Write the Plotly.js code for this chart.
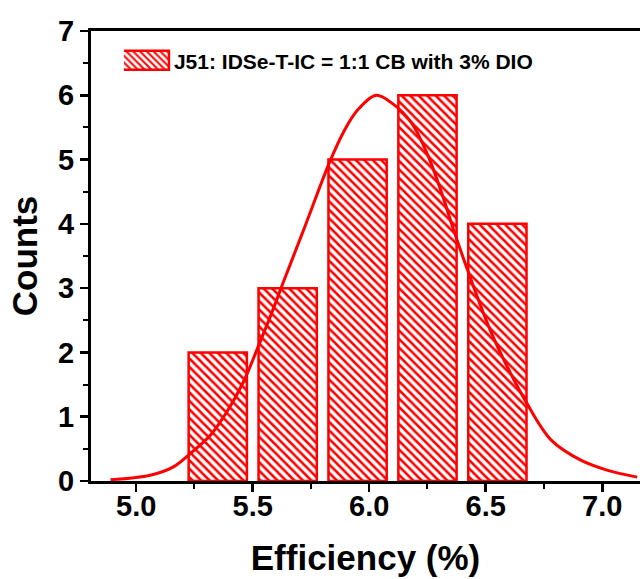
<!DOCTYPE html>
<html>
<head>
<meta charset="utf-8">
<script src="https://cdn.plot.ly/plotly-3.0.1.min.js"></script>
<style>
html,body{margin:0;padding:0;background:#fff;overflow:hidden;}
#chart{width:640px;height:579px;}
</style>
</head>
<body>
<div id="chart"></div>
<script>
// Histogram bins (efficiency, %) and counts
const binCenters = [5.35, 5.65, 5.95, 6.25, 6.55];
const counts = [2, 3, 5, 6, 4];
const binWidth = 0.25;

// Fitted distribution curve
const fitX = [4.89, 5.06, 5.16, 5.23, 5.32, 5.39, 5.46, 5.52, 5.58, 5.63, 5.72, 5.83, 5.89, 5.95, 6.03, 6.10, 6.18, 6.25, 6.31, 6.36, 6.43, 6.52, 6.61, 6.67, 6.78, 6.91, 7.02, 7.15];
const fitY = [0.02, 0.09, 0.22, 0.42, 0.72, 1.08, 1.54, 2.06, 2.60, 3.08, 3.92, 4.96, 5.43, 5.77, 6.00, 5.87, 5.58, 5.08, 4.49, 3.93, 3.20, 2.34, 1.65, 1.25, 0.64, 0.32, 0.17, 0.06];

const xTickVals = [5.0, 5.5, 6.0, 6.5, 7.0];
const xTickText = ['5.0', '5.5', '6.0', '6.5', '7.0'];
const yTickVals = [0, 1, 2, 3, 4, 5, 6, 7];

const legendName = 'J51: IDSe-T-IC = 1:1 CB with 3% DIO';
const RED = '#FF0000';
const FONT = 'Liberation Sans, Arial, sans-serif';

const traces = [
  {
    type: 'bar',
    x: binCenters,
    y: counts,
    width: binWidth,
    name: legendName,
    marker: {
      color: RED,
      line: {color: RED, width: 2.5},
      pattern: {shape: '\\', fgcolor: RED, bgcolor: '#FFFFFF', size: 6, solidity: 0.42}
    },
    hoverinfo: 'skip'
  },
  {
    type: 'scatter',
    mode: 'lines',
    x: fitX,
    y: fitY,
    line: {color: RED, width: 3, shape: 'spline', smoothing: 1},
    showlegend: false,
    hoverinfo: 'skip'
  }
];

const layout = {
  width: 640,
  height: 579,
  margin: {l: 91, r: 0, t: 31, b: 98, pad: 0},
  paper_bgcolor: '#FFFFFF',
  plot_bgcolor: '#FFFFFF',
  font: {family: FONT, color: '#000', size: 24, weight: 'bold'},
  showlegend: true,
  legend: {
    x: 0.060, xanchor: 'left',
    y: 0.934, yanchor: 'middle',
    bgcolor: 'rgba(0,0,0,0)',
    borderwidth: 0,
    itemwidth: 40,
    font: {family: FONT, size: 21, color: '#000', weight: 'bold'}
  },
  xaxis: {
    range: [4.806, 7.162],
    tickvals: xTickVals,
    ticktext: xTickText,
    ticks: 'outside', ticklen: 8, tickwidth: 2.5, tickcolor: '#000',
    minor: {dtick: 0.25, tick0: 5, ticks: 'outside', ticklen: 5, tickwidth: 2, tickcolor: '#000'},
    showline: true, linewidth: 3, linecolor: '#000', mirror: true,
    showgrid: false, zeroline: false,
    tickfont: {family: FONT, size: 29, color: '#000', weight: 'bold'},
    title: {text: 'Efficiency (%)', font: {family: FONT, size: 35, color: '#000', weight: 'bold'}, standoff: 14},
    automargin: false
  },
  yaxis: {
    range: [0, 7],
    tickvals: yTickVals,
    ticks: 'outside', ticklen: 8, tickwidth: 2.5, tickcolor: '#000',
    minor: {dtick: 0.5, tick0: 0, ticks: 'outside', ticklen: 5, tickwidth: 2, tickcolor: '#000'},
    showline: true, linewidth: 3, linecolor: '#000', mirror: false,
    showgrid: false, zeroline: false,
    tickfont: {family: FONT, size: 29, color: '#000', weight: 'bold'},
    title: {text: 'Counts', font: {family: FONT, size: 35, color: '#000', weight: 'bold'}, standoff: 10},
    automargin: false
  }
};

Plotly.newPlot('chart', traces, layout, {staticPlot: true, displayModeBar: false}).then(function (gd) {
  // widen the legend swatch to the flat rectangle of the original
  gd.querySelectorAll('.legend .legendpoints path').forEach(function (p) {
    p.setAttribute('d', 'M20,9.5H-28V-9.5H20Z');
  });
  // pull the x tick labels a little closer to the axis, as in the original
  gd.querySelectorAll('.xtick text').forEach(function (t) {
    const y = parseFloat(t.getAttribute('y') || '0');
    t.setAttribute('y', String(y - 11));
  });
});
</script>
</body>
</html>
